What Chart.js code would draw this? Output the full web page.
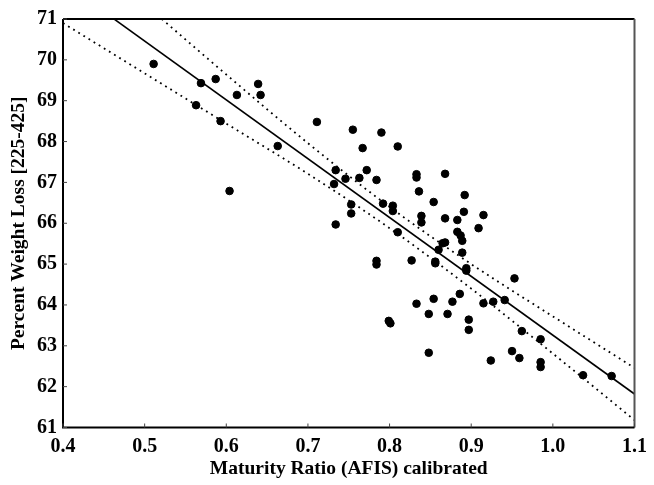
<!DOCTYPE html>
<html>
<head>
<meta charset="utf-8">
<script src="https://cdn.jsdelivr.net/npm/chart.js@4/dist/chart.umd.min.js"></script>
<style>
html,body{margin:0;padding:0;background:#fff;}
#wrap{width:654px;height:485px;position:relative;}
</style>
</head>
<body>
<div id="wrap"><canvas id="c" width="654" height="485"></canvas></div>
<script>
// Observed data points (Maturity Ratio vs Percent Weight Loss)
const maturityX = [0.511,0.569,0.587,0.563,0.593,0.613,0.639,0.642,0.604,0.663,
  0.711,0.755,0.790,0.767,0.810,0.734,0.746,0.772,0.763,0.784,
  0.732,0.833,0.833,0.868,0.836,0.892,0.854,0.792,0.804,0.804,
  0.753,0.753,0.891,0.915,0.839,0.839,0.868,0.883,0.734,0.810,
  0.883,0.887,0.889,0.909,0.865,0.868,0.889,0.860,0.784,0.784,
  0.827,0.856,0.856,0.894,0.894,0.953,0.833,0.854,0.877,0.886,
  0.915,0.927,0.941,0.799,0.801,0.848,0.871,0.897,0.897,0.962,
  0.985,0.848,0.924,0.950,0.959,0.985,0.985,1.037,1.072];
const weightLoss = [69.90,69.43,69.53,68.89,68.50,69.14,69.41,69.14,66.79,67.89,
  68.48,68.29,68.22,67.84,67.88,67.30,67.09,67.30,67.11,67.06,
  66.96,67.20,67.12,67.21,66.78,66.69,66.52,66.48,66.43,66.30,
  66.46,66.24,66.28,66.20,66.18,66.02,66.12,66.08,65.97,65.78,
  65.79,65.70,65.57,65.88,65.51,65.53,65.28,65.35,65.08,64.99,
  65.09,65.06,65.02,64.90,64.84,64.65,64.03,64.15,64.08,64.27,
  64.04,64.08,64.12,63.61,63.55,63.78,63.78,63.64,63.39,63.36,
  63.16,62.83,62.64,62.87,62.70,62.60,62.48,62.28,62.26];

// Regression line
const fitX = [0.4, 1.1];
const fitY = [71.9, 61.82];

// Confidence band curves
const upperX = [0.521, 0.6, 0.7, 0.8, 0.9, 1.0, 1.1];
const upperY = [71.0, 69.64, 67.96, 66.40, 65.00, 63.72, 62.46];
const lowerX = [0.4, 0.5, 0.6, 0.7, 0.8, 0.9, 1.0, 1.1];
const lowerY = [70.9, 69.67, 68.44, 67.21, 65.88, 64.40, 62.81, 61.18];

// Tick labels
const xTicks = ['0.4','0.5','0.6','0.7','0.8','0.9','1.0','1.1'];
const yTicks = ['61','62','63','64','65','66','67','68','69','70','71'];

const xTitle = 'Maturity Ratio (AFIS) calibrated';
const yTitle = 'Percent Weight Loss [225-425]';

const zip = (xs, ys) => xs.map((x, i) => ({x: x, y: ys[i]}));

const fontFam = '"Liberation Serif","DejaVu Serif","Times New Roman",serif';

const framePlugin = {
  id: 'frame',
  afterDraw(chart) {
    const {ctx, chartArea: a, scales} = chart;
    ctx.save();
    ctx.strokeStyle = '#000';
    ctx.lineWidth = 2;
    ctx.beginPath();
    ctx.moveTo(a.left, a.top); ctx.lineTo(a.right, a.top);
    ctx.stroke();
    ctx.strokeStyle = '#555';
    ctx.beginPath();
    ctx.moveTo(a.right, a.top); ctx.lineTo(a.right, a.bottom);
    ctx.stroke();
    ctx.strokeStyle = '#000';
    ctx.beginPath();
    ctx.moveTo(a.left, a.top); ctx.lineTo(a.left, a.bottom); ctx.lineTo(a.right, a.bottom);
    ctx.stroke();
    ctx.lineWidth = 1;
    ctx.strokeStyle = '#444';
    ctx.beginPath();
    scales.x.ticks.forEach(t => {
      const px = scales.x.getPixelForValue(t.value);
      ctx.moveTo(px, a.bottom); ctx.lineTo(px, a.bottom - 4);
    });
    scales.y.ticks.forEach(t => {
      const py = scales.y.getPixelForValue(t.value);
      ctx.moveTo(a.left, py); ctx.lineTo(a.left + 4, py);
    });
    ctx.stroke();
    ctx.restore();
  }
};

new Chart(document.getElementById('c'), {
  type: 'scatter',
  data: {
    datasets: [
      {
        label: 'data',
        data: zip(maturityX, weightLoss),
        backgroundColor: '#000',
        borderColor: '#000',
        pointRadius: 3.8,
        pointHoverRadius: 3.8,
        order: 0
      },
      {
        label: 'fit',
        data: zip(fitX, fitY),
        showLine: true,
        borderColor: '#000',
        borderWidth: 1.6,
        pointRadius: 0,
        order: 1
      },
      {
        label: 'upper',
        data: zip(upperX, upperY),
        showLine: true,
        borderColor: '#000',
        borderWidth: 1.8,
        borderDash: [1.8, 4.2],
        cubicInterpolationMode: 'monotone',
        pointRadius: 0,
        order: 2
      },
      {
        label: 'lower',
        data: zip(lowerX, lowerY),
        showLine: true,
        borderColor: '#000',
        borderWidth: 1.8,
        borderDash: [1.8, 4.2],
        cubicInterpolationMode: 'monotone',
        pointRadius: 0,
        order: 2
      }
    ]
  },
  options: {
    responsive: false,
    animation: false,
    devicePixelRatio: 1,
    layout: {padding: {left: 0, top: 19, right: 11, bottom: 0}},
    plugins: {legend: {display: false}, tooltip: {enabled: false}},
    scales: {
      x: {
        type: 'linear',
        min: 0.4, max: 1.1,
        afterBuildTicks(s) { s.ticks = xTicks.map(v => ({value: parseFloat(v)})); },
        afterFit(s) { s.height = 57.5; },
        grid: {display: false, drawTicks: false},
        border: {display: false},
        ticks: {
          padding: 7,
          color: '#000',
          font: {family: fontFam, size: 20, weight: 'bold'},
          callback: (v, i) => xTicks[i]
        },
        title: {
          display: true, text: xTitle, color: '#000',
          font: {family: fontFam, size: 19.5, weight: 'bold'},
          padding: {top: 0, bottom: 4}
        }
      },
      y: {
        type: 'linear',
        min: 61, max: 71,
        afterBuildTicks(s) { s.ticks = yTicks.map(v => ({value: parseFloat(v)})); },
        afterFit(s) { s.width = 63; },
        grid: {display: false, drawTicks: false},
        border: {display: false},
        ticks: {
          padding: 6,
          color: '#000',
          font: {family: fontFam, size: 20, weight: 'bold'},
          callback: (v, i) => yTicks[i]
        },
        title: {
          display: true, text: yTitle, color: '#000',
          font: {family: fontFam, size: 19.5, weight: 'bold'},
          padding: {top: 7, bottom: 0}
        }
      }
    }
  },
  plugins: [framePlugin]
});
</script>
</body>
</html>
